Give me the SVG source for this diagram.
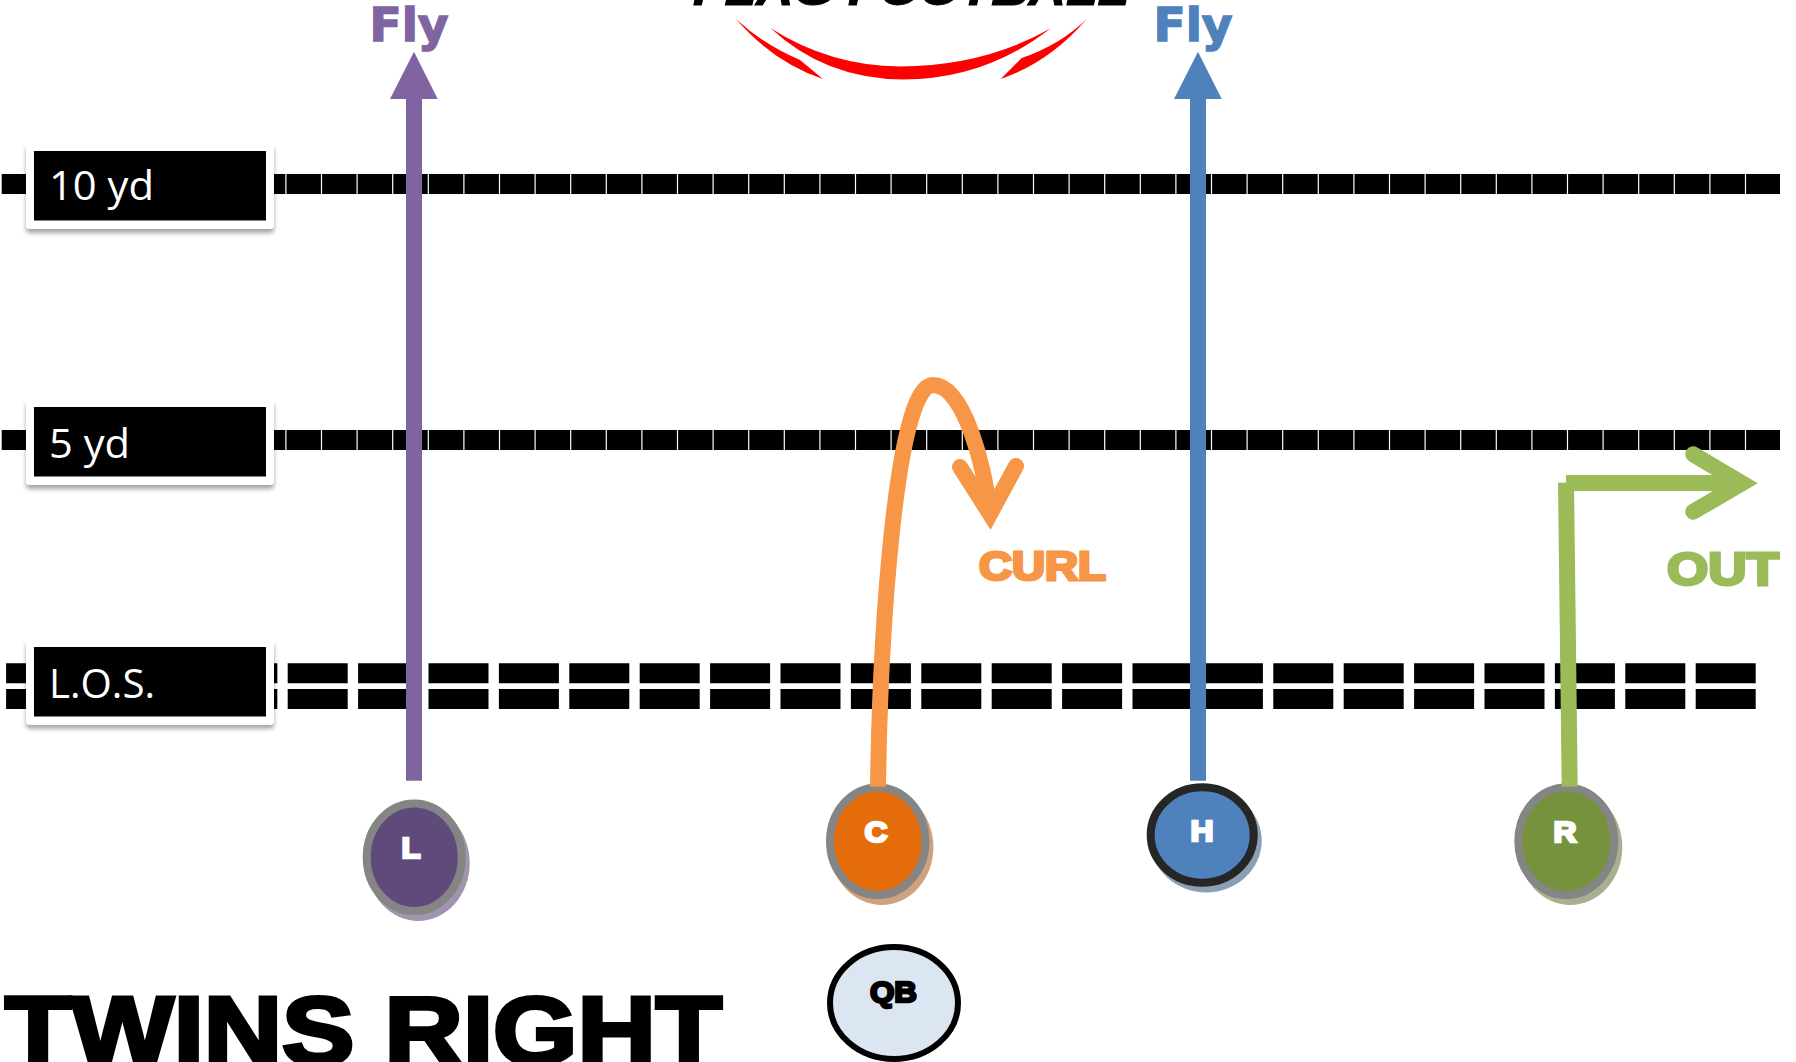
<svg xmlns="http://www.w3.org/2000/svg" width="1796" height="1062" viewBox="0 0 1796 1062">
<style>
.yard{fill:none;stroke:#000;stroke-width:20;stroke-dasharray:34.4 1.2}
.los{fill:none;stroke:#000;stroke-width:20;stroke-dasharray:60 10.4}
.tag{font-family:"Open Sans","Liberation Sans",sans-serif;font-size:41px;fill:#fff}
.heavy{font-family:"Liberation Sans",Arial,sans-serif;font-weight:700}
.pl{font-size:30px;stroke-width:2.5px;text-anchor:middle}
.fly{font-family:"DejaVu Sans",sans-serif;font-weight:700;font-size:47px;stroke-width:1.5px}
.ring{stroke-width:8}
.route{fill:none;stroke-width:16}
.open{fill:none;stroke-width:16;stroke-linecap:round;stroke-linejoin:miter;stroke-miterlimit:6}
</style>
<defs>
<filter id="sh" x="-10%" y="-20%" width="120%" height="150%"><feDropShadow dx="0" dy="4" stdDeviation="2.2" flood-color="#000" flood-opacity="0.35"/></filter>
</defs>
<rect width="1796" height="1062" fill="#fff"/>
<g id="field">
<path class="yard" d="M1.7 184H1780"/>
<path class="yard" d="M1.7 440H1780"/>
<path class="los" d="M6.1 673.3H1756"/>
<path class="los" d="M6.1 699H1756"/>
</g>
<g id="logo">
<text x="693" y="5" font-family="Liberation Sans, sans-serif" font-weight="700" font-style="italic" font-size="46" stroke="#000" stroke-width="1" textLength="436" lengthAdjust="spacingAndGlyphs">FLAG FOOTBALL</text>
<path fill="#f00" d="M736 19Q764 45 800 60L823 79Q773 62 736 19Z"/>
<path fill="#f00" d="M770.7 28.3Q830 66 900 66.5Q985 66 1050.7 28.3Q985 79.5 903 79.5Q825 79 770.7 28.3Z"/>
<path fill="#f00" d="M1086.7 19Q1060 45 1021.7 58L1000.7 79Q1050 62 1086.7 19Z"/>
</g>
<g id="tag-10yd">
<rect x="26" y="143" width="248" height="86" rx="4" fill="#fff" filter="url(#sh)"/>
<rect x="34" y="151" width="232" height="69.5" fill="#000"/>
<text class="tag" x="49" y="200" textLength="105" lengthAdjust="spacingAndGlyphs">10 yd</text>
</g>
<g id="tag-5yd">
<rect x="26" y="399" width="248" height="86" rx="4" fill="#fff" filter="url(#sh)"/>
<rect x="34" y="407" width="232" height="69.5" fill="#000"/>
<text class="tag" x="49" y="458" textLength="81" lengthAdjust="spacingAndGlyphs">5 yd</text>
</g>
<g id="tag-los">
<rect x="26" y="639.3" width="248" height="85.5" rx="4" fill="#fff" filter="url(#sh)"/>
<rect x="34" y="647" width="232" height="69.5" fill="#000"/>
<text class="tag" x="49" y="698" textLength="106" lengthAdjust="spacingAndGlyphs">L.O.S.</text>
</g>
<g id="node-L">
<ellipse cx="418.2" cy="863.2" rx="51.5" ry="57.8" fill="#a094ae"/>
<ellipse class="ring" cx="414.2" cy="857.2" rx="47.5" ry="53.8" fill="#604a7b" stroke="#858585"/>
<text class="heavy pl" x="411" y="858" fill="#fff" stroke="#fff" textLength="19" lengthAdjust="spacingAndGlyphs">L</text>
</g>
<g id="node-C">
<ellipse cx="881.7" cy="847.2" rx="51.7" ry="57.8" fill="#cfa27d"/>
<ellipse class="ring" cx="877.7" cy="841.2" rx="47.7" ry="53.8" fill="#e46c0a" stroke="#858585"/>
<text class="heavy pl" x="876" y="842" fill="#fff" stroke="#fff" textLength="23" lengthAdjust="spacingAndGlyphs">C</text>
</g>
<g id="node-H">
<ellipse cx="1206.2" cy="840.7" rx="55.5" ry="51.7" fill="#8c9fb5"/>
<ellipse class="ring" cx="1202.2" cy="835" rx="51.5" ry="47.7" fill="#4f81bd" stroke="#262626"/>
<text class="heavy pl" x="1202" y="840.7" fill="#fff" stroke="#fff" textLength="23" lengthAdjust="spacingAndGlyphs">H</text>
</g>
<g id="node-R">
<ellipse cx="1570.3" cy="847.2" rx="52" ry="57.8" fill="#a7b191"/>
<ellipse class="ring" cx="1566.3" cy="841.2" rx="48" ry="53.8" fill="#76923c" stroke="#858585"/>
<text class="heavy pl" x="1565" y="842.3" fill="#fff" stroke="#fff" textLength="23" lengthAdjust="spacingAndGlyphs">R</text>
</g>
<g id="node-QB">
<ellipse cx="894" cy="1003" rx="64" ry="56" fill="#dce6f2" stroke="#000" stroke-width="6"/>
<text class="heavy" x="870" y="1002" font-size="30" fill="#000" stroke="#000" stroke-width="2.5" textLength="47" lengthAdjust="spacingAndGlyphs">QB</text>
</g>
<g id="connectors">
<path class="route" stroke="#8064a2" d="M414 780.7V98"/>
<path fill="#8064a2" d="M414 51.7L437.7 99H390Z"/>
<path class="route" stroke="#4f81bd" d="M1198 780.7V98"/>
<path fill="#4f81bd" d="M1198 51.7L1221.7 99H1174Z"/>
<path class="route" stroke="#f79646" d="M878 786.7C880 640 895 385 933 385C965 385 985 470 990 515"/>
<path class="open" stroke="#f79646" d="M960 467L990 514L1016 466"/>
<path class="route" stroke="#9bbb59" d="M1569.7 786.7L1566 482.7"/>
<path class="route" stroke="#9bbb59" d="M1566 483H1742"/>
<path class="open" stroke="#9bbb59" d="M1693.3 454.3L1742 483.3L1693.3 511.7"/>
</g>
<g id="labels">
<text class="fly" x="369.5" y="41" fill="#8064a2" stroke="#8064a2" textLength="79" lengthAdjust="spacingAndGlyphs">Fly</text>
<text class="fly" x="1153.5" y="41" fill="#4f81bd" stroke="#4f81bd" textLength="79" lengthAdjust="spacingAndGlyphs">Fly</text>
<text class="heavy" x="979" y="579.5" font-size="40" fill="#f79646" stroke="#f79646" stroke-width="3" textLength="127" lengthAdjust="spacingAndGlyphs">CURL</text>
<text class="heavy" x="1667" y="584.5" font-size="46" fill="#9bbb59" stroke="#9bbb59" stroke-width="3" textLength="112" lengthAdjust="spacingAndGlyphs">OUT</text>
<text class="heavy" x="5" y="1064" font-size="96" fill="#000" stroke="#000" stroke-width="4" textLength="717" lengthAdjust="spacingAndGlyphs">TWINS RIGHT</text>
</g>
</svg>
